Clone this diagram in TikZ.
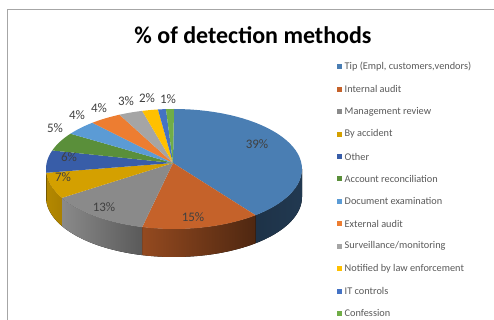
\documentclass[tikz,border=0pt]{standalone}
\usepackage{fontspec}
\setmainfont{Carlito}

\definecolor{tipblue}{HTML}{4A7EB3}
\definecolor{intaudit}{HTML}{C5622A}
\definecolor{mgmtgray}{HTML}{8A8A8A}
\definecolor{accgold}{HTML}{D4A000}
\definecolor{otherblue}{HTML}{385DA8}
\definecolor{recgreen}{HTML}{5A8F3A}
\definecolor{docblue}{HTML}{5B9BD5}
\definecolor{extorange}{HTML}{ED7D31}
\definecolor{survgray}{HTML}{A5A5A5}
\definecolor{lawyellow}{HTML}{FFC000}
\definecolor{itblue}{HTML}{4472C4}
\definecolor{confgreen}{HTML}{70AD47}
\definecolor{labtext}{HTML}{404040}
\definecolor{legtext}{HTML}{595959}

\tikzset{
  pct/.style={text=labtext, font=\fontsize{13}{13}\selectfont, inner sep=0pt},
  legkey/.style={minimum size=5, inner sep=0pt},
  legtxt/.style={anchor=west, text=legtext, font=\fontsize{10.3}{10.3}\selectfont, inner sep=0pt}
}

\begin{document}
\begin{tikzpicture}[x=1pt,y=-1pt]
\useasboundingbox (0,0) rectangle (494,320);

\draw[black!35] (7,320) -- (7,9) -- (494,9);

\node[font=\fontsize{24}{24}\selectfont\bfseries] (title) at (253,35) {\% of detection methods};

% sides, left colour / right colour
\foreach \a/\b/\l/\r in {0/-50.4/tipblue!40!black/tipblue!45!black,
  -50.4/-104.4/intaudit!75!black/intaudit!40!black,
  -104.4/-151.2/mgmtgray/mgmtgray!65!black,
  -151.2/-176.4/accgold!85!black/accgold!80!black,
  -176.4/-180/otherblue!80!black/otherblue!80!black}
  \fill[left color=\l, right color=\r]
    plot[domain=\a:\b, samples=40] ({174+128*cos(\x)},{169-60*sin(\x)})
    -- plot[domain=\b:\a, samples=40] ({174+128*cos(\x)},{197-60*sin(\x)}) -- cycle;

% top face
\foreach \a/\b/\c in {90/-50.4/tipblue, -50.4/-104.4/intaudit, -104.4/-151.2/mgmtgray,
  -151.2/-176.4/accgold, -176.4/-198/otherblue, -198/-216/recgreen,
  -216/-230.4/docblue, -230.4/-244.8/extorange, -244.8/-255.6/survgray,
  -255.6/-262.8/lawyellow, -262.8/-266.4/itblue, -266.4/-270/confgreen}
  \fill[\c] (173,163) -- plot[domain=\a:\b, samples=40] ({174+128*cos(\x)},{169-60*sin(\x)}) -- cycle;

\node[pct] (p39) at (257,144) {39\%};
\node[pct] (p15) at (193,217) {15\%};
\node[pct] (p13) at (104,207) {13\%};
\node[pct] (p7) at (63,177) {7\%};
\node[pct] (p6) at (69,157) {6\%};
\node[pct] (p5) at (55,128) {5\%};
\node[pct] (p4a) at (77,115) {4\%};
\node[pct] (p4b) at (99,108) {4\%};
\node[pct] (p3) at (126,101) {3\%};
\node[pct] (p2) at (147,98) {2\%};
\node[pct] (p1) at (168,99) {1\%};

% legend
\foreach \c/\t [count=\i from 0] in {tipblue/{Tip (Empl, customers,vendors)},
  intaudit/{Internal audit}, mgmtgray/{Management review}, accgold/{By accident},
  otherblue/{Other}, recgreen/{Account reconciliation}, docblue/{Document examination},
  extorange/{External audit}, survgray/{Surveillance/monitoring},
  lawyellow/{Notified by law enforcement}, itblue/{IT controls}, confgreen/{Confession}}
{
  \node[legkey, fill=\c] (key\i) at (339.5,{67+22.4*\i}) {};
  \node[legtxt] (lab\i) at (344.5,{67+22.4*\i}) {\t};
}

\end{tikzpicture}
\end{document}
